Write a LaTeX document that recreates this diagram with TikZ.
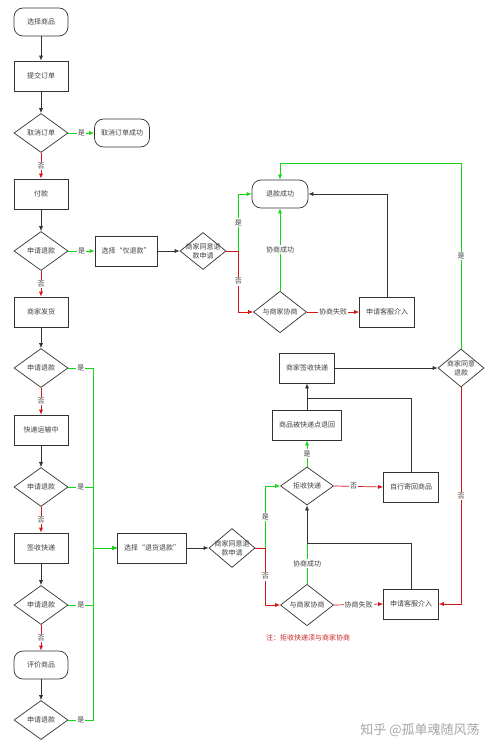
\documentclass[tikz,border=0pt]{standalone}
\usepackage{fontspec}
\setmainfont{Noto Sans CJK SC}
\usetikzlibrary{shapes.geometric,arrows.meta}
\definecolor{lineg}{RGB}{51,51,51}
\definecolor{yesg}{RGB}{20,215,20}
\definecolor{nor}{RGB}{215,20,20}
\definecolor{noter}{RGB}{205,40,40}

\begin{document}
\begin{tikzpicture}[x=1pt,y=-1pt]
\tikzset{
  every node/.style={font=\fontsize{7}{9}\selectfont, text=black!75},
  proc/.style={draw=lineg, line width=0.7pt, rectangle, minimum width=54pt, minimum height=30pt, inner sep=1pt},
  term/.style={proc, rounded corners=9pt, minimum height=28pt},
  dec/.style={draw=lineg, line width=0.7pt, diamond, minimum width=54pt, minimum height=39pt, inner sep=0pt},
  flow/.style={draw=lineg, line width=0.7pt, -{Latex[length=5pt,width=4pt]}},
  plain/.style={draw=lineg, line width=0.7pt},
  yes/.style={flow, draw=yesg},
  no/.style={flow, draw=nor},
  tag/.style={fill=white, inner sep=1pt},
}
\useasboundingbox[fill=white] (0,0) rectangle (500,751);

% left column
\node[term] (sel) at (41,22) {选择商品};
\node[proc] (sub) at (41,76) {提交订单};
\node[dec] (qc) at (41,133) {取消订单};
\node[term, minimum width=55pt] (cok) at (122,133) {取消订单成功};
\node[proc] (pay) at (41,194) {付款};
\node[dec] (q1) at (41,251) {申请退款};
\node[proc] (ship) at (41,312) {商家发货};
\node[dec] (q2) at (41,368) {申请退款};
\node[proc] (trans) at (41,430) {快递运输中};
\node[dec] (q3) at (41,487) {申请退款};
\node[proc] (sign) at (41,548) {签收快递};
\node[dec] (q4) at (41,605) {申请退款};
\node[term] (rate) at (41,665) {评价商品};
\node[dec] (q5) at (41,720) {申请退款};

% refund only
\node[proc, minimum width=62pt] (only) at (126,251) {选择“仅退款”};
\node[dec, minimum width=46pt, minimum height=37pt, label=center:{\parbox{40pt}{\centering 商家同意退\\款申请}}] (ag1) at (203,251) {};
\node[term, minimum width=56pt] (ok) at (280,194) {退款成功};
\node[dec, minimum width=53pt] (neg1) at (280,312) {与商家协商};
\node[proc, minimum width=55pt] (cs1) at (387,312) {申请客服介入};

% return and refund
\node[proc, minimum width=69pt] (ret) at (152,548) {选择“退货退款”};
\node[dec, minimum width=46pt, label=center:{\parbox{40pt}{\centering 商家同意退\\款申请}}] (ag2) at (232,548) {};
\node[dec, minimum width=53pt, minimum height=38pt] (rej) at (307,486) {拒收快递};
\node[proc, minimum width=69pt] (back) at (307,425) {商品被快递点退回};
\node[proc, minimum width=55pt] (self) at (411,487) {自行寄回商品};
\node[proc, minimum width=55pt] (recv) at (307,368) {商家签收快递};
\node[dec, minimum width=46pt, minimum height=38pt, label=center:{\parbox{40pt}{\centering 商家同意\\退款}}] (ag3) at (461,368) {};
\node[dec, minimum width=53pt, minimum height=38pt] (neg2) at (307,605) {与商家协商};
\node[proc, minimum width=55pt] (cs2) at (411,604) {申请客服介入};
\node[text=noter] (note) at (308,638) {注：拒收快递须与商家协商};
\node[font=\fontsize{13}{15}\selectfont, text=black!35] (wm) at (420,730) {知乎 @孤单魂随风荡};

\coordinate (j1) at (307,398);
\coordinate (j2) at (307,543);

% main flow
\draw[flow] (sel) -- (sub);
\draw[flow] (sub) -- (qc);
\draw[yes] (qc) -- node[tag]{是} (cok);
\draw[no] (qc) -- node[tag]{否} (pay);
\draw[flow] (pay) -- (q1);
\draw[yes] (q1) -- node[tag]{是} (only);
\draw[no] (q1) -- node[tag]{否} (ship);
\draw[flow] (ship) -- (q2);
\draw[no] (q2) -- node[tag]{否} (trans);
\draw[flow] (trans) -- (q3);
\draw[no] (q3) -- node[tag]{否} (sign);
\draw[flow] (sign) -- (q4);
\draw[no] (q4) -- node[tag]{否} (rate);
\draw[flow] (rate) -- (q5);
\foreach \q in {q2,q3,q4,q5}
  \draw[yes] (\q.east) -- node[tag]{是} ++(25,0) |- (ret.west);

% refund only branch
\draw[flow] (only) -- (ag1);
\draw[yes] (ag1.east) -- ++(12,0) |- node[tag, pos=.25]{是} (ok.west);
\draw[no] (ag1.east) -- ++(12,0) |- node[tag, pos=.25]{否} (neg1.west);
\draw[yes] (neg1.north) -- node[tag]{协商成功} (ok.south);
\draw[no] (neg1.east) -- node[tag]{协商失败} (cs1.west);
\draw[flow] (cs1.north) |- (ok.east);

% return branch
\draw[flow] (ret) -- (ag2);
\draw[yes] (ag2.east) -- ++(10,0) |- node[tag, pos=.25]{是} (rej.west);
\draw[no] (ag2.east) -- ++(10,0) |- node[tag, pos=.25]{否} (neg2.west);
\draw[yes] (rej.north) -- node[tag]{是} (back.south);
\draw[no] (rej.east) -- node[tag, pos=.4]{否} (self.west);
\draw[flow] (back.north) -- (recv.south);
\draw[plain] (self.north) |- (j1);
\draw[plain, draw=yesg] (neg2.north) -- node[tag]{协商成功} (j2);
\draw[flow] (cs2.north) |- (j2) -- (rej.south);
\draw[no] (neg2.east) -- node[tag]{协商失败} (cs2.west);
\draw[flow] (recv) -- (ag3);
\draw[yes] (ag3.north) -- node[tag]{是} ++(0,-185) -| (ok.north);
\draw[no] (ag3.south) |- node[tag, pos=.25]{否} (cs2.east);
\end{tikzpicture}
\end{document}
